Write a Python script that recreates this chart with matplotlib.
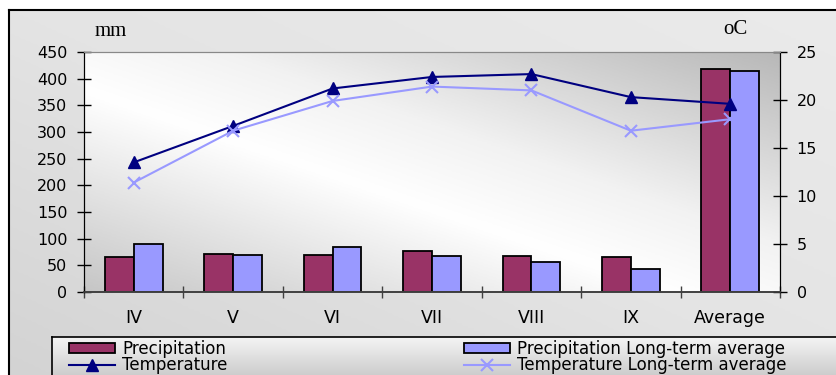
import numpy as np
import matplotlib.pyplot as plt
from matplotlib.colors import LinearSegmentedColormap

# data
months = ['IV', 'V', 'VI', 'VII', 'VIII', 'IX', 'Average']
precip = [65, 72, 70, 77, 67, 65, 418]
precip_lt = [90, 70, 85, 67, 57, 44, 415]
temp = [13.5, 17.3, 21.2, 22.4, 22.7, 20.3, 19.6]
temp_lt = [11.4, 16.8, 19.9, 21.4, 21.0, 16.8, 18.0]

W, H = 836, 375
fig = plt.figure(figsize=(W / 100, H / 100), dpi=100)
fig.patch.set_facecolor('white')


def fbox(x0, y0, x1, y1):
    # pixel box (origin top-left) -> figure fraction rect
    return [x0 / W, 1 - y1 / H, (x1 - x0) / W, (y1 - y0) / H]


def gradient_axes(rect, cmap, mode, zorder):
    a = fig.add_axes(rect, zorder=zorder)
    gx, gy = np.meshgrid(np.linspace(0, 1, 300), np.linspace(0, 1, 150))
    t = gy if mode == 'v' else (gx + gy) / 2
    a.imshow(t, cmap=cmap, extent=[0, 1, 0, 1], origin='lower',
             aspect='auto', vmin=0, vmax=1, interpolation='bilinear')
    a.set_xlim(0, 1)
    a.set_ylim(0, 1)
    a.set_xticks([])
    a.set_yticks([])
    return a


# chart area background with frame
bg_cmap = LinearSegmentedColormap.from_list('bg', ['#d2d2d2', '#e4e4e4', '#ebebeb'])
bg = gradient_axes(fbox(9, 10, 860, 400), bg_cmap, 'd', 0)
for s in ['right', 'bottom']:
    bg.spines[s].set_visible(False)
for s in ['left', 'top']:
    bg.spines[s].set_linewidth(1.5)

# legend box background
lg_cmap = LinearSegmentedColormap.from_list('lg', ['#b8b8b8', '#d6d6d6', '#f4f4f4'])
lg = gradient_axes(fbox(52, 337, 860, 395), lg_cmap, 'v', 1)
for s in ['right', 'bottom']:
    lg.spines[s].set_visible(False)
for s in ['left', 'top']:
    lg.spines[s].set_linewidth(1.2)

# plot area
ax = fig.add_axes(fbox(84, 52, 780, 292), zorder=2)
pa_cmap = LinearSegmentedColormap.from_list(
    'pa', [(0, '#c6c6c6'), (0.42, '#ffffff'), (0.6, '#f2f2f2'), (1, '#b8b8b8')])
gx, gy = np.meshgrid(np.linspace(0, 1, 300), np.linspace(0, 1, 150))
ax.imshow((gx + gy) / 2, cmap=pa_cmap, extent=[0, 1, 0, 1], origin='lower',
          aspect='auto', vmin=0, vmax=1, transform=ax.transAxes, zorder=0,
          interpolation='bilinear')

x = np.arange(len(months))
w = 0.29
b1 = ax.bar(x - w / 2, precip, w, color='#993366', edgecolor='black', lw=1.3,
            zorder=2, label='Precipitation')
b2 = ax.bar(x + w / 2, precip_lt, w, color='#9999ff', edgecolor='black', lw=1.3,
            zorder=2, label='Precipitation Long-term average')

ax.set_xlim(-0.5, 6.5)
ax.set_ylim(0, 450)
ax.set_yticks(np.arange(0, 451, 50))
ax.set_xticks(x)
ax.set_xticklabels(months)
ax.set_xticks(np.arange(-0.5, 7, 1), minor=True)

ax.tick_params(axis='x', which='major', length=0, pad=12, labelsize=12.5)
ax.tick_params(axis='x', which='minor', direction='inout', length=9, width=1, color='#404040')
ax.tick_params(axis='y', direction='inout', length=10, width=1, pad=7, labelsize=11.5)
for lab in ax.get_xticklabels() + ax.get_yticklabels():
    lab.set_family('DejaVu Sans')

ax2 = ax.twinx()
l1, = ax2.plot(x, temp, color='#000080', lw=1.5, marker='^', ms=9,
               label='Temperature')
l2, = ax2.plot(x, temp_lt, color='#9999ff', lw=1.5, marker='x', ms=9, mew=1.5,
               label='Temperature Long-term average')
ax2.set_ylim(0, 25)
ax2.set_yticks(np.arange(0, 26, 5))
ax2.tick_params(axis='y', direction='inout', length=10, width=1, pad=7, labelsize=11.5)
for lab in ax2.get_yticklabels():
    lab.set_family('DejaVu Sans')

for a in (ax, ax2):
    a.spines['left'].set_color('black')
    a.spines['right'].set_color('black')
    a.spines['bottom'].set_color('#404040')
    a.spines['top'].set_color('#888888')
    a.spines['bottom'].set_linewidth(1.2)

# unit labels
fig.text(111 / W, 1 - 31 / H, 'mm', ha='center', va='center',
         family='Liberation Serif', size=15)
fig.text(735 / W, 1 - 30 / H, 'oC', ha='center', va='center',
         family='Liberation Serif', size=15)

leg_kw = dict(loc='upper left', frameon=False, borderpad=0, borderaxespad=0,
              handlelength=2.75, handletextpad=0.45, labelspacing=-0.12,
              handleheight=0.55,
              prop=dict(family='DejaVu Sans', size=12))
fig.legend([b1, l1], ['Precipitation', 'Temperature'],
           bbox_to_anchor=(69 / W, 1 - 340 / H), **leg_kw)
fig.legend([b2, l2], ['Precipitation Long-term average', 'Temperature Long-term average'],
           bbox_to_anchor=(464 / W, 1 - 340 / H), **leg_kw)

fig.savefig('out.png', dpi=100)
